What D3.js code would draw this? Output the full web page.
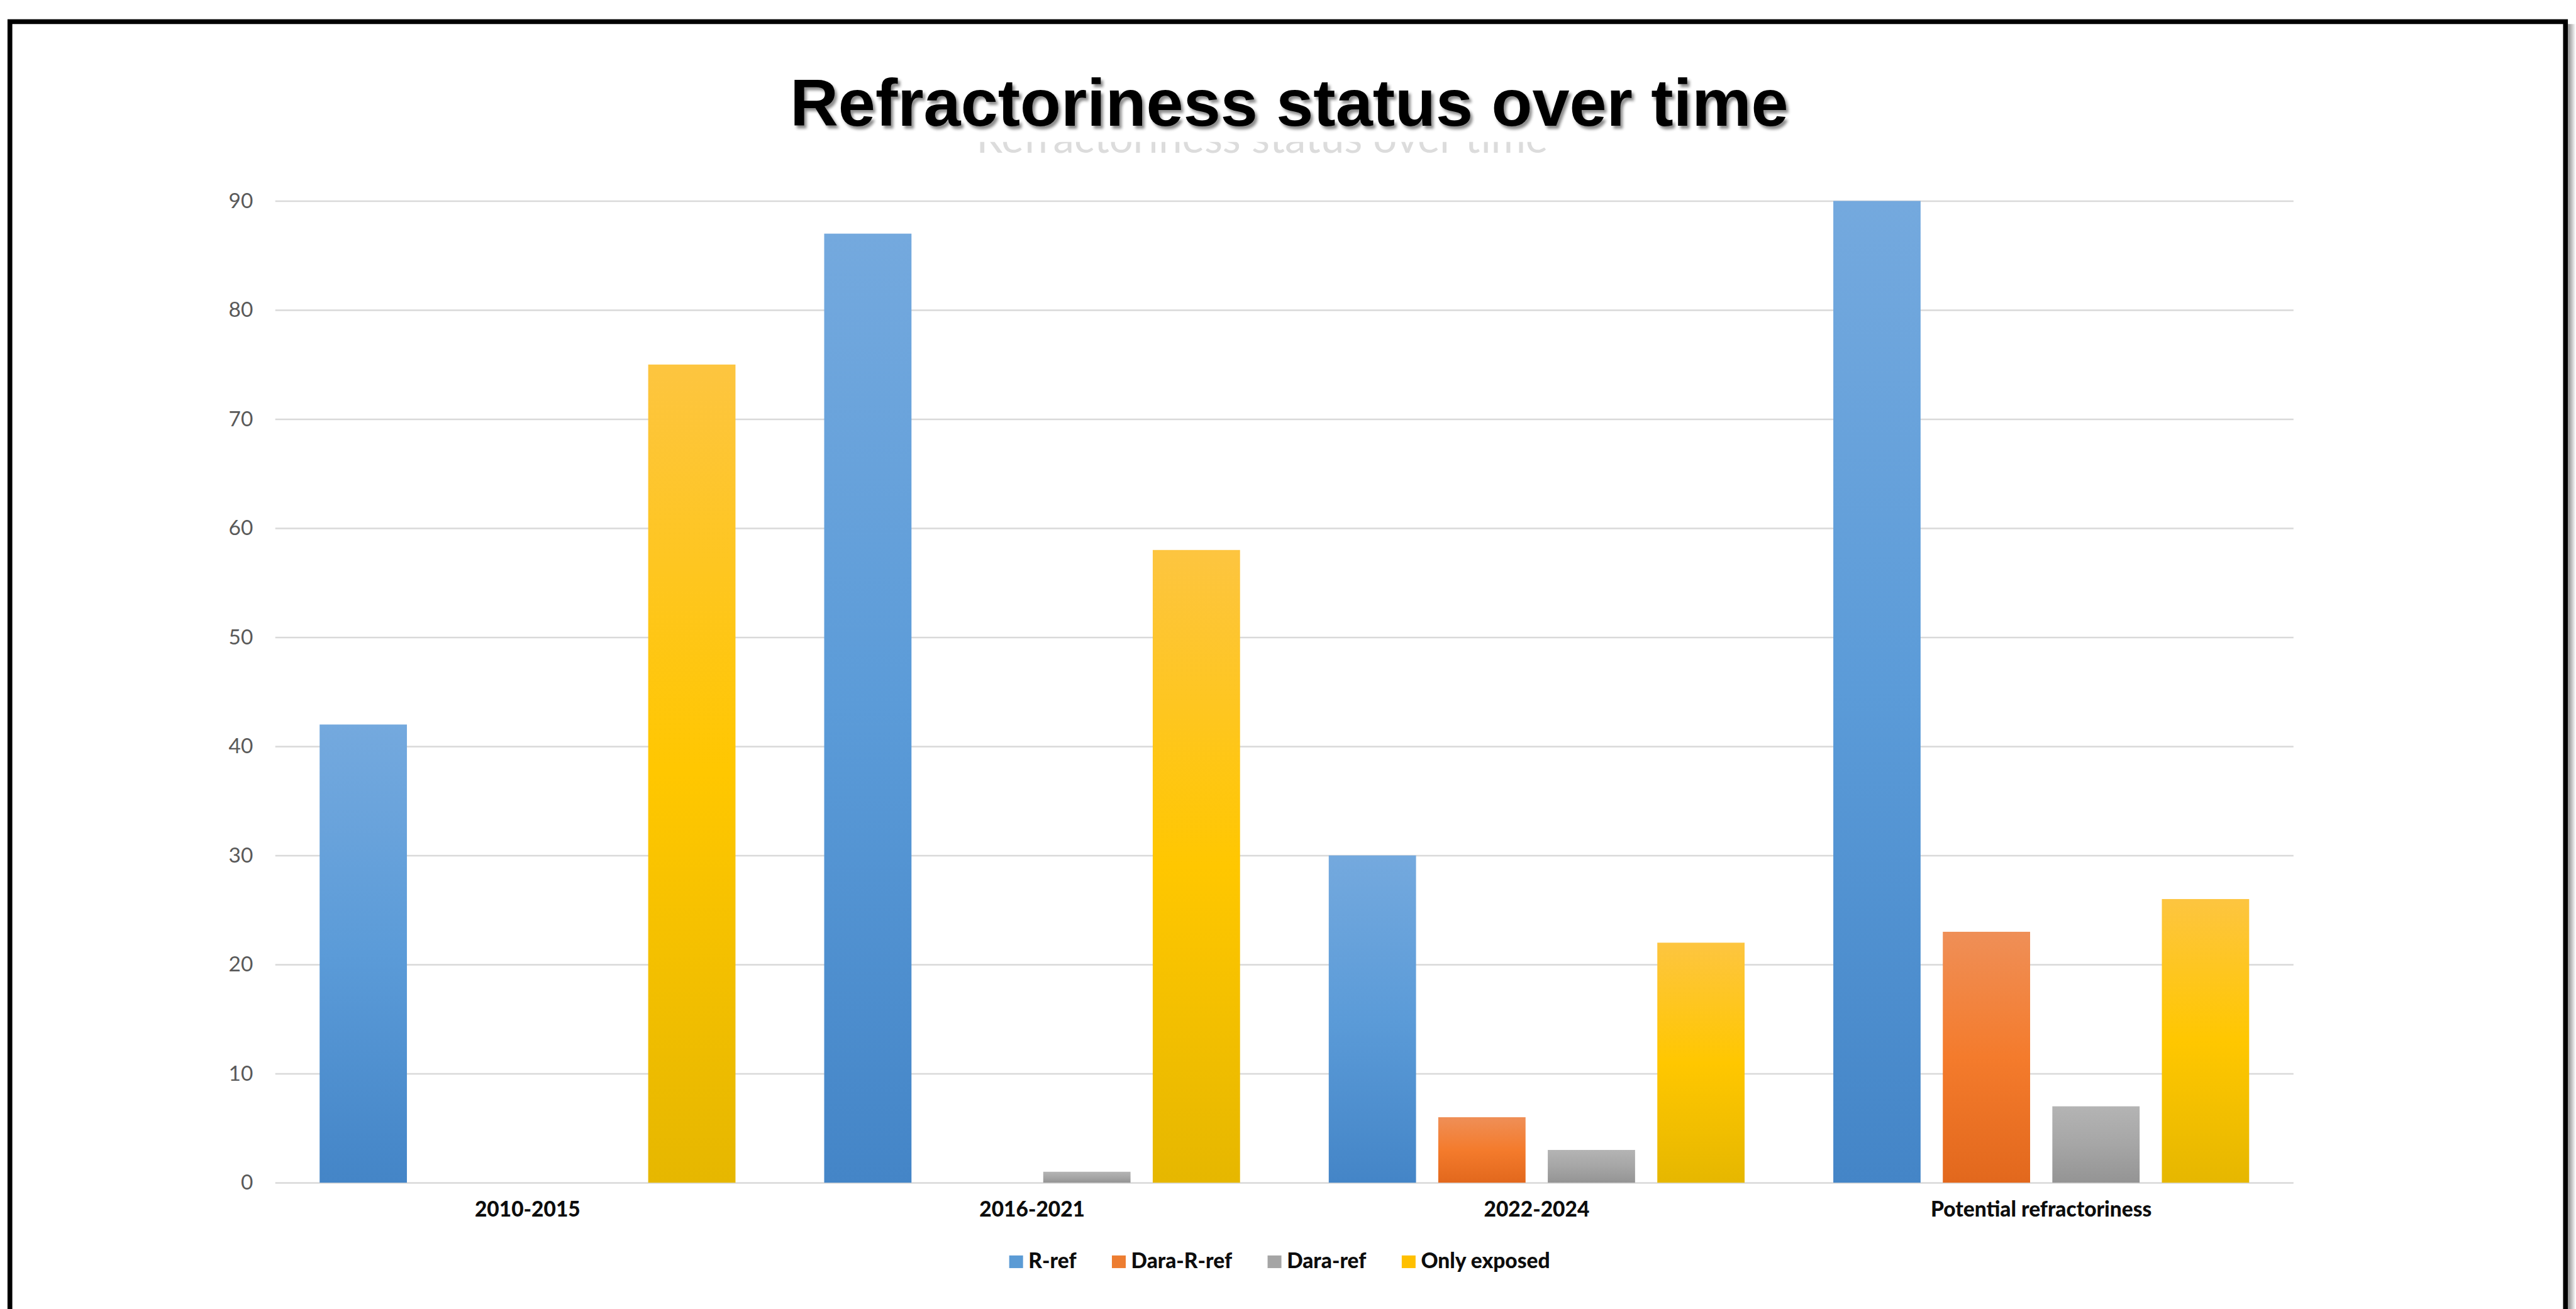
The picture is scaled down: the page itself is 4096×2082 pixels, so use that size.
<!DOCTYPE html>
<html>
<head>
<meta charset="utf-8">
<script src="https://cdn.jsdelivr.net/npm/d3@7"></script>
<style>
  html, body { margin: 0; padding: 0; background: #fff; overflow: hidden; }
  svg { display: block; }
</style>
</head>
<body>
<svg id="chart"></svg>
<script>
// data
const categories = ["2010-2015", "2016-2021", "2022-2024", "Potential refractoriness"];
const seriesNames = ["R-ref", "Dara-R-ref", "Dara-ref", "Only exposed"];
const rRef        = [42, 87, 30, 90];
const daraRRef    = [0, 0, 6, 23];
const daraRef     = [0, 1, 3, 7];
const onlyExposed = [75, 58, 22, 26];
const yTicks = [0, 10, 20, 30, 40, 50, 60, 70, 80, 90];
const titleText = "Refractoriness status over time";

const seriesValues = [rRef, daraRRef, daraRef, onlyExposed];

// colours per series: [top, middle, bottom, legend]
const seriesColors = [
  ["#74a9de", "#5b9bd8", "#4485c7", "#5b9bd5"],
  ["#ef8f57", "#f47b2c", "#e2681d", "#ed7d31"],
  ["#b4b4b4", "#a6a6a6", "#949494", "#a5a5a5"],
  ["#fdc540", "#ffc700", "#e6b700", "#ffc000"]
];

// draw in reference pixels, viewBox scales it down to the window
const W = 4280, H = 2176;
const margin = { top: 334, right: W - 3811, bottom: H - 1966, left: 457 };

const svg = d3.select("#chart")
  .attr("width", 4096)
  .attr("height", 2082)
  .attr("viewBox", `0 0 ${W} ${H}`);

const defs = svg.append("defs");

seriesColors.forEach((c, i) => {
  const g = defs.append("linearGradient")
    .attr("id", "grad" + i)
    .attr("x1", 0).attr("y1", 0).attr("x2", 0).attr("y2", 1);
  g.append("stop").attr("offset", "0%").attr("stop-color", c[0]);
  g.append("stop").attr("offset", "50%").attr("stop-color", c[1]);
  g.append("stop").attr("offset", "100%").attr("stop-color", c[2]);
});

const shadow = defs.append("filter").attr("id", "titleShadow")
  .attr("x", "-5%").attr("y", "-20%").attr("width", "110%").attr("height", "150%");
shadow.append("feDropShadow")
  .attr("dx", 4).attr("dy", 5).attr("stdDeviation", 2.5)
  .attr("flood-color", "#000").attr("flood-opacity", 0.45);

const edgeGrad = defs.append("linearGradient").attr("id", "edgeShadow")
  .attr("x1", 0).attr("x2", 1).attr("y1", 0).attr("y2", 0);
edgeGrad.append("stop").attr("offset", "0%").attr("stop-color", "#8a8a8a");
edgeGrad.append("stop").attr("offset", "100%").attr("stop-color", "#ffffff");

defs.append("clipPath").attr("id", "ghostClip")
  .append("rect").attr("x", 0).attr("y", 236).attr("width", W).attr("height", 30);

svg.append("rect").attr("width", W).attr("height", H).attr("fill", "#fff");

// frame round the slide
svg.append("rect")
  .attr("x", 16).attr("y", 36)
  .attr("width", 4263 - 16).attr("height", 2400)
  .attr("fill", "none")
  .attr("stroke", "#000")
  .attr("stroke-width", 8);
svg.append("rect")
  .attr("x", 4267).attr("y", 40).attr("width", 13).attr("height", H)
  .attr("fill", "url(#edgeShadow)");

// scales
const x0 = d3.scaleBand()
  .domain(categories)
  .range([margin.left, W - margin.right])
  .padding(0);

const x1 = d3.scaleBand()
  .domain(seriesNames)
  .range([0, x0.bandwidth()])
  .paddingInner(0.203)
  .paddingOuter(0.405);

const y = d3.scaleLinear()
  .domain([0, 90])
  .range([H - margin.bottom, margin.top]);

// y axis with gridlines
const yAxis = svg.append("g")
  .attr("class", "axis y-axis")
  .attr("transform", `translate(${margin.left}, 0)`)
  .call(d3.axisLeft(y)
    .tickValues(yTicks)
    .tickSize(-(W - margin.right - margin.left))
    .tickPadding(37));
yAxis.select(".domain").remove();
yAxis.selectAll("line")
  .attr("stroke", "#d9d9d9")
  .attr("stroke-width", 2.5);
yAxis.selectAll("text")
  .attr("fill", "#595959")
  .style("font-family", "Lato, 'Open Sans', sans-serif")
  .style("font-size", "35px");

// x axis labels
const xAxis = svg.append("g")
  .attr("class", "axis x-axis")
  .attr("transform", `translate(0, ${H - margin.bottom})`)
  .call(d3.axisBottom(x0).tickSize(0).tickPadding(32));
xAxis.select(".domain").remove();
xAxis.selectAll("text")
  .attr("fill", "#0d0d0d")
  .style("font-family", "Lato, 'Open Sans', sans-serif")
  .style("font-weight", "900")
  .style("font-size", "35px");

// bars
const groups = svg.selectAll(".cat-group")
  .data(categories)
  .enter()
  .append("g")
    .attr("class", "cat-group")
    .attr("transform", d => `translate(${x0(d)}, 0)`);

groups.each(function(cat, ci) {
  const g = d3.select(this);
  seriesNames.forEach((s, si) => {
    const v = seriesValues[si][ci];
    if (v <= 0) return;
    g.append("rect")
      .attr("x", x1(s))
      .attr("y", y(v))
      .attr("width", x1.bandwidth())
      .attr("height", y(0) - y(v))
      .attr("fill", `url(#grad${si})`);
  });
});

// ghost of the original chart title, mostly hidden under the new one
svg.append("text")
  .attr("x", 2097)
  .attr("y", 254)
  .attr("text-anchor", "middle")
  .attr("clip-path", "url(#ghostClip)")
  .attr("fill", "#dcdcdc")
  .style("font-family", "Lato, 'Open Sans', sans-serif")
  .style("font-size", "70px")
  .text(titleText);

// title
svg.append("text")
  .attr("x", 2142)
  .attr("y", 209)
  .attr("text-anchor", "middle")
  .attr("filter", "url(#titleShadow)")
  .attr("fill", "#000")
  .style("font-family", "'Liberation Sans', Arial, sans-serif")
  .style("font-weight", "bold")
  .style("font-size", "111px")
  .text(titleText);

// legend
const legend = svg.append("g").attr("class", "legend");
const sq = { w: 23, h: 21 }, sqGap = 9, itemGap = 59, legendBase = 2108;
let cursor = 0;
seriesNames.forEach((s, i) => {
  const item = legend.append("g");
  item.append("rect")
    .attr("x", 0).attr("y", legendBase - 21)
    .attr("width", sq.w).attr("height", sq.h)
    .attr("fill", seriesColors[i][3]);
  const t = item.append("text")
    .attr("x", sq.w + sqGap)
    .attr("y", legendBase)
    .attr("fill", "#0d0d0d")
    .style("font-family", "Lato, 'Open Sans', sans-serif")
    .style("font-weight", "900")
    .style("font-size", "35px")
    .text(s);
  const w = sq.w + sqGap + t.node().getComputedTextLength();
  item.attr("transform", `translate(${cursor}, 0)`);
  cursor += w + itemGap;
});
const legendWidth = cursor - itemGap;
legend.attr("transform", `translate(${2126 - legendWidth / 2}, 0)`);
</script>
</body>
</html>
